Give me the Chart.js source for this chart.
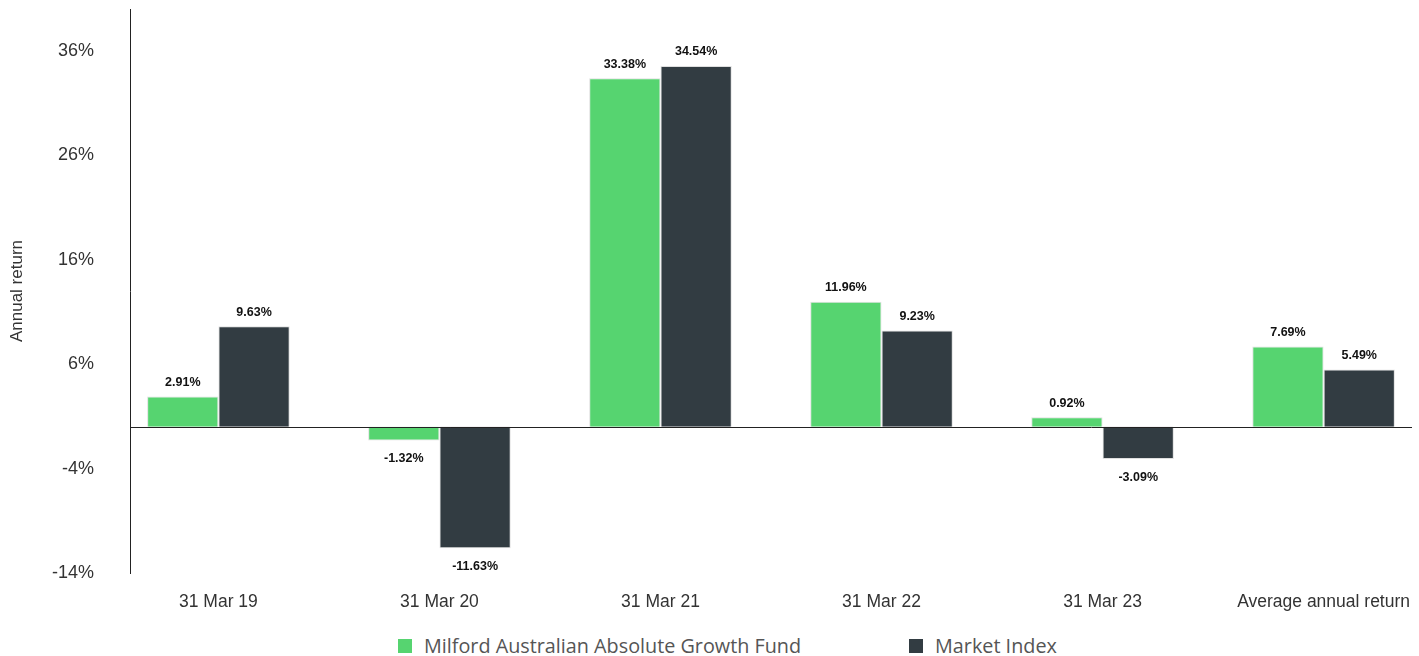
<!DOCTYPE html>
<html>
<head>
<meta charset="utf-8">
<script src="https://cdn.jsdelivr.net/npm/chart.js@4"></script>
<style>
  html, body { margin: 0; padding: 0; background: #fff; }
  #wrap { position: relative; width: 1419px; height: 656px; }
  #chartBox { position: absolute; left: 0; top: 0; width: 1419px; height: 625px; }
  #legend { position: absolute; left: 398px; top: 632px; display: flex; align-items: center;
            font-family: "Open Sans", sans-serif; font-size: 19.8px; color: #555; }
  .item { display: flex; align-items: center; }
  .box { width: 14px; height: 14px; margin-right: 12px; }
</style>
</head>
<body>
<div id="wrap">
  <div id="chartBox"><canvas id="chart"></canvas></div>
  <div id="legend"></div>
</div>
<script>
// Dades
const categories = ['31 Mar 19', '31 Mar 20', '31 Mar 21', '31 Mar 22', '31 Mar 23', 'Average annual return'];
const fundValues = [2.91, -1.32, 33.38, 11.96, 0.92, 7.69];
const indexValues = [9.63, -11.63, 34.54, 9.23, -3.09, 5.49];
const yTicks = [-14, -4, 6, 16, 26, 36];
const seriesNames = ['Milford Australian Absolute Growth Fund', 'Market Index'];
const seriesColors = ['#56d470', '#323c42'];

const toPoints = vals => vals.map((v, i) => ({ x: i, y: v }));

// linia del zero
const zeroLine = {
    id: 'zeroLine',
    afterDatasetsDraw(chart) {
        const { ctx, chartArea, scales } = chart;
        const y = Math.round(scales.y.getPixelForValue(0)) + 0.5;
        ctx.save();
        ctx.strokeStyle = '#222';
        ctx.lineWidth = 1;
        ctx.beginPath();
        ctx.moveTo(chartArea.left, y);
        ctx.lineTo(chartArea.right, y);
        ctx.stroke();
        ctx.restore();
    }
};

// etiquetes de valor
const valueLabels = {
    id: 'valueLabels',
    afterDatasetsDraw(chart) {
        const ctx = chart.ctx;
        ctx.save();
        ctx.font = '600 12.5px "Liberation Sans", Arial, sans-serif';
        ctx.fillStyle = '#111';
        ctx.textAlign = 'center';
        ctx.textBaseline = 'middle';
        chart.data.datasets.forEach((ds, di) => {
            chart.getDatasetMeta(di).data.forEach((bar, i) => {
                const v = ds.data[i].y;
                const y = v >= 0 ? bar.y - 14 : bar.y + 18;
                ctx.fillText(v.toFixed(2) + '%', bar.x, y);
            });
        });
        ctx.restore();
    }
};

const axisFont = { family: '"Liberation Sans", Arial, sans-serif', size: 17.5 };

const ctx = document.getElementById('chart').getContext('2d');
new Chart(ctx, {
    type: 'bar',
    data: {
        datasets: [
            { label: seriesNames[0], data: toPoints(fundValues), backgroundColor: seriesColors[0],
              borderColor: 'rgba(220,220,220,0.9)', borderWidth: 1 },
            { label: seriesNames[1], data: toPoints(indexValues), backgroundColor: seriesColors[1],
              borderColor: 'rgba(220,220,220,0.9)', borderWidth: 1 }
        ]
    },
    options: {
        responsive: true,
        maintainAspectRatio: false,
        animation: false,
        categoryPercentage: 0.645,
        barPercentage: 1,
        layout: { padding: { top: 9, right: 7, left: 0, bottom: 0 } },
        plugins: {
            legend: { display: false },
            tooltip: { enabled: false }
        },
        scales: {
            x: {
                type: 'linear',
                min: -0.4,
                max: 5.4,
                offset: false,
                grid: { display: false },
                border: { display: false },
                afterBuildTicks: scale => { scale.ticks = categories.map((c, i) => ({ value: i })); },
                afterFit: scale => {
                    scale.height = 52;
                    scale.paddingLeft = 0;
                    scale.paddingRight = 0;
                },
                ticks: {
                    padding: 11,
                    color: '#333',
                    font: axisFont,
                    maxRotation: 0,
                    autoSkip: false,
                    callback: v => categories[v]
                }
            },
            y: {
                min: -14,
                max: 40,
                grid: { display: false, drawTicks: false },
                border: { display: true, color: '#222', width: 1 },
                afterBuildTicks: scale => { scale.ticks = yTicks.map(v => ({ value: v })); },
                afterFit: scale => {
                    scale.width = 130;
                    scale.paddingTop = 0;
                    scale.paddingBottom = 0;
                },
                title: {
                    display: true,
                    text: 'Annual return',
                    color: '#333',
                    font: { family: '"Liberation Sans", Arial, sans-serif', size: 17 },
                    padding: { top: 7, bottom: 0 }
                },
                ticks: {
                    padding: 36,
                    color: '#333',
                    font: { family: '"Liberation Sans", Arial, sans-serif', size: 18 },
                    callback: v => v + '%'
                }
            }
        }
    },
    plugins: [zeroLine, valueLabels]
});

// llegenda
const legend = document.getElementById('legend');
legend.innerHTML = seriesNames.map((name, i) => `
    <div class="item" style="margin-right:${i === 0 ? 108 : 0}px">
        <div class="box" style="background:${seriesColors[i]}"></div>
        <span>${name}</span>
    </div>`).join('');
</script>
</body>
</html>
